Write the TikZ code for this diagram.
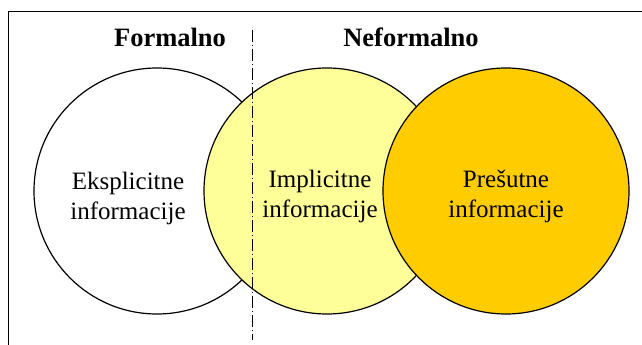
\documentclass[tikz,border=0pt]{standalone}
\usepackage{fontspec}
\setmainfont{Liberation Serif}
\definecolor{lightyellow}{HTML}{FFFF99}
\definecolor{gold}{HTML}{FFCC00}
\begin{document}
\begin{tikzpicture}[x=1pt, y=-1pt,
    krug/.style={circle, draw, line width=1.2pt, minimum size=246pt,
        inner sep=0pt, outer sep=0pt},
    tekst/.style={font=\fontsize{25}{30}\selectfont, align=center},
    naslov/.style={font=\fontsize{26.5}{30}\selectfont\bfseries}]
    \useasboundingbox (0,0) rectangle (642,345);
    \draw[line width=1pt] (8,12) rectangle (670,370);
    % circles
    \node[krug, fill=white] (eks) at (157,191) {};
    \node[krug, fill=lightyellow] (imp) at (327,191) {};
    \node[krug, fill=gold] (pre) at (506,191) {};
    % border
    \coordinate (gore) at (252,30);
    \coordinate (dolje) at (252,340);
    \draw[line width=1pt, dash pattern=on 12pt off 3pt on 1pt off 3pt] (gore) -- (dolje);
    % labels
    \node[naslov] (formalno) at (170,37) {Formalno};
    \node[naslov] (neformalno) at (411,37) {Neformalno};
    \node[tekst] (eks-t) at (128,198) {Eksplicitne\\informacije};
    \node[tekst] (imp-t) at (320,196) {Implicitne\\informacije};
    \node[tekst] (pre-t) at (506,196) {Prešutne\\informacije};
\end{tikzpicture}
\end{document}
